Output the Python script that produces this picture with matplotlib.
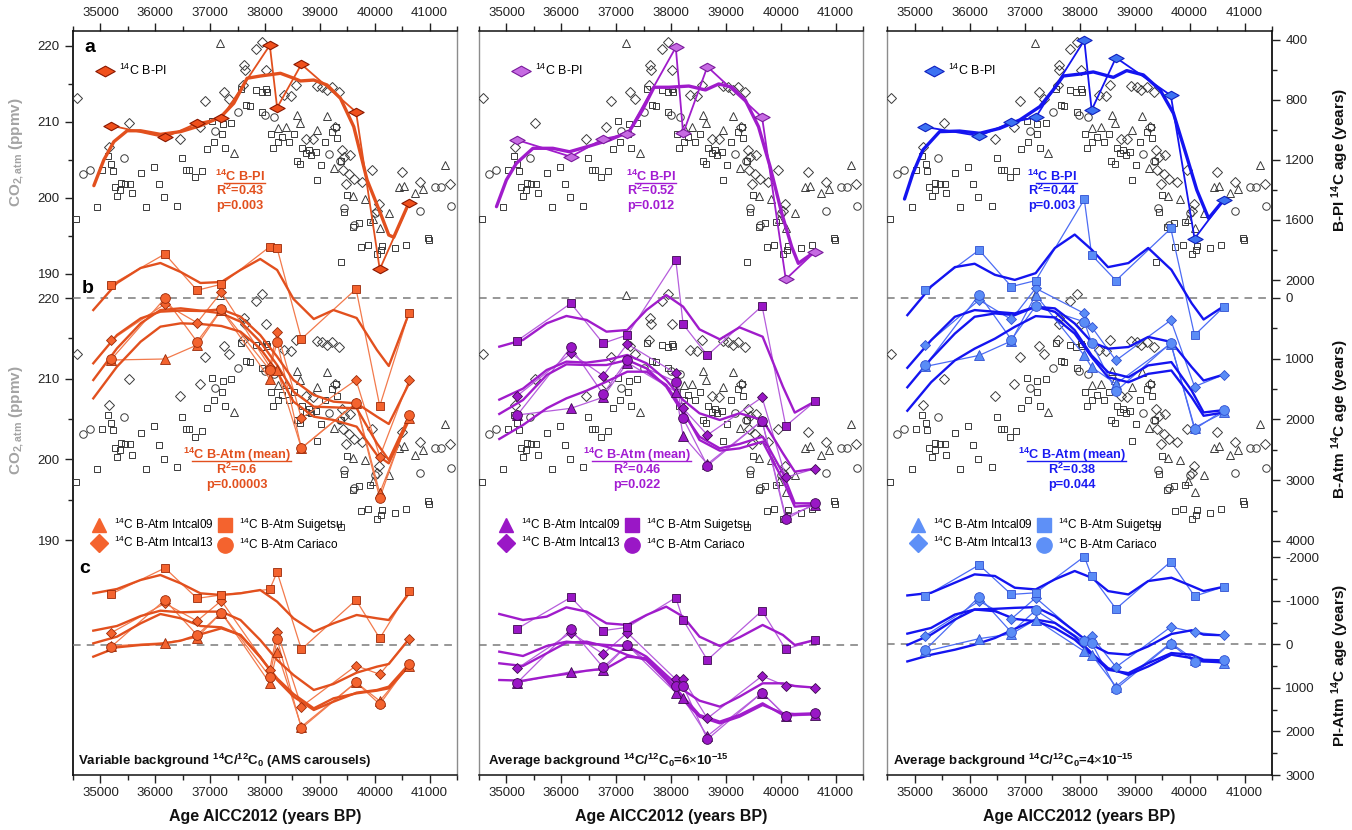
import matplotlib
matplotlib.use("Agg")
import matplotlib.pyplot as plt
from matplotlib.path import Path
from matplotlib.lines import Line2D

plt.rcParams['font.family'] = ['Liberation Sans', 'DejaVu Sans']
plt.rcParams['mathtext.fontset'] = 'custom'
plt.rcParams['mathtext.rm'] = 'Liberation Sans'
plt.rcParams['mathtext.it'] = 'Liberation Sans:italic'
plt.rcParams['mathtext.bf'] = 'Liberation Sans:bold'

# ---------------- data ----------------
# sample ages (AICC2012, years BP) and ages at which the smoothed fits were read
SAMPLE_AGE = [35370, 36320, 36890, 37320, 38180, 38310, 38740, 39710, 40130, 40650]
FIT_AGE = [35050, 35470, 35890, 36240, 36600, 36950, 37320, 37660, 38010, 38310,
           38600, 38960, 39310, 39720, 40080, 40290, 40650]

# background CO2 records (ppmv), hollow black markers
SQ_AGE = [34740, 35124, 35207, 35307, 35372, 35396, 35426, 35479, 35532, 35544, 35621, 35709,
          35739, 35892, 35987, 36123, 36217, 36300, 36543, 36631, 36702, 36755, 36862, 36974,
          37063, 37187, 37163, 37340, 37346, 37388, 37500, 37671, 37766, 37825, 37931, 38038,
          38115, 38132, 38044, 38197, 38233, 38322, 38404, 38522, 38617, 38658, 38717, 38759,
          38818, 38871, 38918, 38995, 39019, 39096, 39167, 39291, 39356, 39380, 39438, 39504,
          39551, 39651, 39758, 39793, 39929, 39965, 40089, 40172, 40148, 40396, 40591, 40987,
          41011, 39444]
SQ_CO2 = [197.2, 198.8, 203.7, 205.5, 204.5, 203.6, 201.4, 200.3, 201.1, 202.0, 201.9, 201.9,
          200.6, 203.3, 198.8, 204.1, 201.8, 200.1, 199.0, 205.2, 203.7, 203.7, 202.8, 203.5,
          206.4, 207.4, 210.1, 208.4, 209.7, 206.6, 209.9, 214.4, 212.2, 212.1, 214.2, 213.9,
          214.3, 214.0, 211.3, 208.4, 206.6, 207.4, 208.0, 207.3, 208.4, 204.9, 204.5, 206.6,
          205.9, 206.3, 205.7, 206.0, 202.3, 204.4, 207.4, 208.7, 209.4, 207.9, 204.9, 198.2,
          200.4, 196.2, 196.7, 193.6, 193.8, 196.8, 192.6, 193.7, 193.1, 193.4, 193.8, 194.8,
          194.5, 191.6]
DI_AGE = [34764, 35325, 35691, 36596, 36938, 37039, 37376, 37459, 37707, 37725, 37736, 37931,
          38050, 38115, 38434, 38564, 38641, 38824, 38942, 39013, 39108, 39190, 39291, 39338,
          39409, 39456, 39470, 39498, 39533, 39592, 39604, 39675, 39823, 40000, 40089, 40118,
          40532, 40839, 41383]
DI_CO2 = [213.1, 206.7, 209.9, 207.8, 209.3, 212.7, 214.0, 213.0, 214.8, 217.5, 216.8, 219.6,
          220.5, 216.8, 213.5, 213.4, 214.8, 207.8, 207.7, 214.7, 214.6, 214.2, 214.6, 209.4,
          213.9, 206.3, 203.7, 205.4, 201.9, 203.1, 205.6, 202.5, 202.1, 203.7, 198.3, 199.2,
          203.4, 202.1, 201.9]
TR_AGE = [37305, 37541, 38322, 38475, 38664, 38723, 39019, 39202, 39320, 39663, 39870, 40018,
          40130, 40296, 40479, 40556, 40751, 40898, 41294]
TR_CO2 = [220.4, 205.9, 209.2, 209.4, 210.9, 209.8, 209.0, 210.8, 203.9, 200.2, 199.9, 197.3,
          196.0, 198.0, 201.4, 201.6, 200.6, 201.2, 204.4]
CI_AGE = [34870, 34988, 35591, 37216, 37618, 38091, 38251, 39226, 39421, 39492, 39681, 40053,
          40839, 41117, 41212, 41401]
CI_CO2 = [203.1, 203.7, 205.3, 208.8, 211.3, 210.9, 210.6, 205.8, 204.9, 198.7, 196.5, 198.0,
          198.3, 201.4, 201.4, 198.9]

# ---- left column: variable background ----
L_BPI = [971, 1049, 955, 922, 435, 851, 562, 880, 1929, 1487]
L_BPI_FIT_X = [35060, 35236, 35414, 35650, 35887, 36240, 36596, 36950, 37305, 37541, 37778, 38014,
               38369, 38605, 38723, 38960, 39196, 39433, 39669, 39905, 40142, 40290, 40378, 40656]
L_BPI_FIT = [1371, 1200, 1078, 1005, 1005, 1029, 1011, 971, 915, 822, 655, 640,
             622, 655, 673, 667, 700, 789, 978, 1333, 1555, 1700, 1715, 1478]
L_B_I09 = [1021, 1004, 774, 198, 1333, 1185, 2469, 1728, 3210, 1975]
L_B_I13 = [691, 99, 407, -94, 1131, 555, 1980, 1350, 2612, 1350]
L_B_SUI = [-219, -724, -127, -226, -844, -818, 675, -148, 1778, 242]
L_B_CAR = [1009, 5, 719, 186, 1185, 719, 2474, 1733, 3297, 1926]
L_B_I09_FIT = [1652, 1130, 719, 472, 417, 428, 461, 554, 829, 1213, 1706, 1953, 2008, 2118, 2584, 2722, 2008]
L_B_I13_FIT = [1075, 609, 335, 225, 208, 214, 187, 307, 609, 966, 1350, 1597, 1706, 1734, 1953, 2074, 1405]
L_B_SUI_FIT = [198, -247, -494, -576, -428, -247, -263, -461, -642, -461, 16, 346, 198, 329, 856, 1119, 247]
L_B_CAR_FIT = [1350, 829, 417, 198, 170, 208, 252, 390, 719, 1103, 1542, 1789, 1800, 1816, 2392, 2667, 1953]
L_C_I09 = [23, -54, -168, -742, 879, 153, 1873, 856, 1284, 482]
L_C_I13 = [-283, -956, -550, -1017, 573, -306, 1414, 474, 673, -138]
L_C_SUI = [-1170, -1766, -1070, -1147, -1277, -1674, 99, -1032, -153, -1239]
L_C_CAR = [38, -1032, -229, -742, 726, -130, 1911, 856, 1361, 436]
L_C_I09_FIT = [268, 54, 0, -23, -99, -245, -382, -229, 283, 765, 1124, 1453, 1223, 1109, 1047, 994, 482]
L_C_I13_FIT = [-329, -436, -665, -787, -749, -765, -765, -573, -115, 344, 688, 1032, 894, 635, 497, 436, -138]
L_C_SUI_FIT = [-1185, -1284, -1491, -1605, -1414, -1185, -1147, -1185, -1261, -994, -612, -306, -497, -688, -612, -573, -1185]
L_C_CAR_FIT = [-38, -191, -497, -711, -612, -436, -405, -229, 268, 803, 1185, 1491, 1300, 1093, 1032, 956, 436]

# ---- middle column: background 6e-15 ----
M_BPI = [1067, 1178, 1060, 1027, 449, 1022, 578, 915, 1995, 1811]
M_BPI_FIT_X = [35000, 35176, 35353, 35647, 36000, 36294, 36647, 37000, 37353, 37588, 37794, 38059,
               38412, 38706, 38941, 39176, 39412, 39647, 39853, 40059, 40235, 40353, 40647]
M_BPI_FIT = [1511, 1333, 1222, 1122, 1122, 1145, 1107, 1067, 1011, 867, 715, 715,
             707, 733, 693, 715, 800, 978, 1245, 1555, 1778, 1889, 1811]
M_B_I09 = [1926, 1816, 1635, 1064, 1542, 2272, 2733, 2019, 3599, 3407]
M_B_I13 = [1608, 911, 1278, 757, 1240, 1816, 2255, 1635, 2952, 2809]
M_B_SUI = [702, 88, 746, 609, -626, 433, 944, 132, 2107, 1701]
M_B_CAR = [1926, 812, 1580, 1021, 1377, 1981, 2760, 2019, 3643, 3380]
M_B_I09_FIT = [2321, 2091, 1816, 1652, 1525, 1377, 1213, 1213, 1432, 1844, 2337, 2513, 2475, 2365, 2996, 3435, 3407]
M_B_I13_FIT = [1673, 1492, 1185, 1048, 1064, 1021, 938, 1075, 1350, 1679, 1898, 2008, 1898, 2008, 2557, 2859, 2809]
M_B_SUI_FIT = [801, 691, 417, 296, 362, 554, 527, 198, -49, 143, 516, 680, 483, 637, 1460, 1887, 1701]
M_B_CAR_FIT = [1909, 1679, 1268, 1092, 1103, 1103, 1021, 1158, 1460, 1899, 2283, 2475, 2403, 2283, 2886, 3380, 3380]
M_C_I09 = [864, 612, 573, 0, 1093, 1223, 2087, 1093, 1628, 1605]
M_C_I13 = [535, -283, 206, -283, 787, 787, 1682, 711, 940, 979]
M_C_SUI = [-375, -1093, -329, -405, -1086, -573, 344, -787, 99, -115]
M_C_CAR = [864, -359, 512, 0, 933, 940, 2164, 1093, 1628, 1567]
M_C_I09_FIT = [803, 818, 726, 665, 589, 535, 268, 306, 742, 1185, 1605, 1758, 1605, 1338, 1605, 1605, 1583]
M_C_I13_FIT = [153, 252, 23, -76, -38, 0, 23, 268, 688, 1032, 1277, 1414, 1185, 879, 879, 940, 979]
M_C_SUI_FIT = [-711, -573, -650, -864, -764, -497, -459, -688, -879, -650, -191, 23, -176, -459, -229, 0, -115]
M_C_CAR_FIT = [420, 482, 191, -54, -76, 38, 229, 344, 803, 1261, 1644, 1797, 1644, 1376, 1567, 1583, 1567]

# ---- right column: background 4e-15 ----
R_BPI = [980, 1040, 949, 916, 402, 867, 518, 769, 1724, 1464]
R_BPI_FIT_X = [35000, 35148, 35325, 35621, 35975, 36330, 36684, 37039, 37394, 37630, 37807,
               38103, 38339, 38694, 38930, 39225, 39521, 39757, 39993, 40170, 40378, 40644]
R_BPI_FIT = [1460, 1289, 1133, 1011, 1007, 1022, 989, 933, 844, 733, 640,
             627, 613, 649, 604, 633, 733, 889, 1178, 1400, 1589, 1467]
R_B_I09 = [1127, 945, 707, -50, 945, 1138, 1414, 751, 2133, 1884]
R_B_I13 = [779, 33, 354, -160, 254, 475, 1028, 365, 1459, 1260]
R_B_SUI = [-133, -790, -188, -287, -1624, -707, -287, -1144, 613, 144]
R_B_CAR = [1111, -55, 685, 133, 392, 740, 1536, 740, 2160, 1845]
R_B_I09_FIT = [1856, 1387, 1028, 834, 669, 475, 298, 320, 586, 972, 1304, 1387, 1249, 1193, 1635, 1939, 1884]
R_B_I13_FIT = [1149, 696, 309, 199, 227, 254, 144, 171, 420, 724, 834, 807, 641, 724, 1138, 1359, 1260]
R_B_SUI_FIT = [282, -188, -508, -564, -381, -298, -409, -823, -1044, -796, -508, -575, -823, -464, 88, 354, 133]
R_B_CAR_FIT = [1470, 1000, 586, 309, 254, 282, 144, 227, 530, 945, 1221, 1304, 1110, 1055, 1525, 1884, 1845]
R_C_I09 = [161, -131, -238, -569, 161, 238, 969, -31, 354, 431]
R_C_I13 = [-200, -992, -584, -1069, -108, -185, 523, -400, -277, -208]
R_C_SUI = [-1107, -1823, -1146, -1184, -2015, -1569, -815, -1899, -1107, -1323]
R_C_CAR = [123, -1092, -277, -784, -69, -31, 1023, -15, 415, 369]
R_C_I09_FIT = [392, 238, 123, 8, -146, -354, -569, -492, -185, 200, 546, 700, 508, 238, 315, 392, 415]
R_C_I13_FIT = [-246, -377, -684, -800, -815, -838, -854, -646, -300, 8, 200, 238, 46, -238, -323, -223, -208]
R_C_SUI_FIT = [-1123, -1184, -1415, -1607, -1569, -1300, -1261, -1492, -1684, -1530, -1223, -1146, -1453, -1530, -1338, -1223, -1323]
R_C_CAR_FIT = [15, -223, -569, -800, -761, -584, -531, -377, -108, 238, 584, 661, 431, 200, 238, 354, 369]

SERIES_NAMES = ['Intcal09', 'Intcal13', 'Suigetsu', 'Cariaco']
STATS_A = [('0.43', '0.003'), ('0.52', '0.012'), ('0.44', '0.003')]
STATS_B = [('0.6', '0.00003'), ('0.46', '0.022'), ('0.38', '0.044')]
NOTES = [r'Variable background $^{\mathbf{14}}$C/$^{\mathbf{12}}$C$_{\mathbf{0}}$ (AMS carousels)',
         r'Average background $^{\mathbf{14}}$C/$^{\mathbf{12}}$C$_{\mathbf{0}}$=6$\times$10$^{\mathbf{-15}}$',
         r'Average background $^{\mathbf{14}}$C/$^{\mathbf{12}}$C$_{\mathbf{0}}$=4$\times$10$^{\mathbf{-15}}$']

# ---------------- layout ----------------
W, H = 1352, 830
TOP, BOT = 31, 775
XLIM = (34690, 41500)
A_CO2_LIM = (124.08, 221.97)
A_AGE_LIM = (5300, 340)
B_CO2_LIM = (160.87, 253.1)
B_AGE_LIM = (7852, -4395)
C_AGE_LIM = (2982, -14083)

BPI_MARK = Path([(-1, 0), (0, 0.55), (1, 0), (0, -0.55), (-1, 0)],
                [Path.MOVETO, Path.LINETO, Path.LINETO, Path.LINETO, Path.CLOSEPOLY])
MARKS = ['^', 'D', 's', 'o']
MSIZE = {'^': 6.5, 'D': 5.5, 's': 5.5, 'o': 7}

columns = [
    dict(px=(73, 457), fit='#E2501E', thin='#F27A4C', face='#F4632E', edge='#9A2A08',
         bpi_face='#F0501C', bpi_edge='#8A1800', txt='#E2501E', lface='#F4632E',
         bpi=L_BPI, bpi_fx=L_BPI_FIT_X, bpi_fit=L_BPI_FIT,
         b=[L_B_I09, L_B_I13, L_B_SUI, L_B_CAR], bfit=[L_B_I09_FIT, L_B_I13_FIT, L_B_SUI_FIT, L_B_CAR_FIT],
         c=[L_C_I09, L_C_I13, L_C_SUI, L_C_CAR], cfit=[L_C_I09_FIT, L_C_I13_FIT, L_C_SUI_FIT, L_C_CAR_FIT],
         sa=(240, 181), sb=(237, 459), leg_a=95, leg_b=90, note_x=78),
    dict(px=(479, 863), fit='#A01CCB', thin='#B65DDC', face='#9A17C6', edge='#3C0A4E',
         bpi_face='#C66BE2', bpi_edge='#7A1A9C', txt='#A31CD2', lface='#9A17C6',
         bpi=M_BPI, bpi_fx=M_BPI_FIT_X, bpi_fit=M_BPI_FIT,
         b=[M_B_I09, M_B_I13, M_B_SUI, M_B_CAR], bfit=[M_B_I09_FIT, M_B_I13_FIT, M_B_SUI_FIT, M_B_CAR_FIT],
         c=[M_C_I09, M_C_I13, M_C_SUI, M_C_CAR], cfit=[M_C_I09_FIT, M_C_I13_FIT, M_C_SUI_FIT, M_C_CAR_FIT],
         sa=(651, 181), sb=(637, 459), leg_a=511, leg_b=497, note_x=488),
    dict(px=(887, 1272), fit='#1414F0', thin='#4C6CF4', face='#5A8CF6', edge='#2F4FD2',
         bpi_face='#3C72F2', bpi_edge='#1020C0', txt='#1A1AF2', lface='#5E90F7',
         bpi=R_BPI, bpi_fx=R_BPI_FIT_X, bpi_fit=R_BPI_FIT,
         b=[R_B_I09, R_B_I13, R_B_SUI, R_B_CAR], bfit=[R_B_I09_FIT, R_B_I13_FIT, R_B_SUI_FIT, R_B_CAR_FIT],
         c=[R_C_I09, R_C_I13, R_C_SUI, R_C_CAR], cfit=[R_C_I09_FIT, R_C_I13_FIT, R_C_SUI_FIT, R_C_CAR_FIT],
         sa=(1052, 181), sb=(1072, 459), leg_a=924, leg_b=909, note_x=893),
]

fig = plt.figure(figsize=(W / 100, H / 100), dpi=100)


def rect(x0, x1):
    return [x0 / W, 1 - BOT / H, (x1 - x0) / W, (BOT - TOP) / H]


def bare(ax):
    ax.patch.set_visible(False)
    for s in ax.spines.values():
        s.set_visible(False)
    ax.tick_params(axis='both', which='both', bottom=False, top=False, left=False, right=False,
                   labelbottom=False, labeltop=False, labelleft=False, labelright=False)
    ax.set_xlim(*XLIM)


def draw_co2(ax):
    for xs, ys, m, ms in [(SQ_AGE, SQ_CO2, 's', 4.2), (DI_AGE, DI_CO2, 'D', 4.6),
                          (TR_AGE, TR_CO2, '^', 5.2), (CI_AGE, CI_CO2, 'o', 5.4)]:
        ax.plot(xs, ys, ls='none', marker=m, ms=ms, mfc='none', mec='#3a3a3a', mew=0.7, zorder=1)


def set_left_ticks(ax):
    ax.tick_params(axis='y', which='both', left=True, labelleft=True, direction='out',
                   labelsize=9.5, colors='#222222')
    ax.tick_params(axis='y', which='major', length=6, width=1)
    ax.tick_params(axis='y', which='minor', length=3.5, width=1)
    ax.set_yticks([190, 200, 210, 220])
    ax.set_yticks([195, 205, 215], minor=True)


def set_right_ticks(ax, major, minor):
    ax.yaxis.tick_right()
    ax.tick_params(axis='y', which='both', right=True, labelright=True, left=False, labelleft=False,
                   direction='out', labelsize=9.5, colors='#222222')
    ax.tick_params(axis='y', which='major', length=6, width=1)
    ax.tick_params(axis='y', which='minor', length=3.5, width=1)
    ax.set_yticks(major)
    ax.set_yticklabels([str(v) for v in major])
    ax.set_yticks(minor, minor=True)


def stat_block(x, y, head, r2, p, color, gap):
    kw = dict(ha='center', va='baseline', color=color, fontsize=9.2, fontweight='bold')
    t = fig.text(x / W, 1 - y / H, head, **kw)
    fig.text(x / W, 1 - (y + gap) / H, r'R$^{\mathbf{2}}$=' + r2, **kw)
    fig.text(x / W, 1 - (y + 2 * gap) / H, 'p=' + p, **kw)
    return t


heads = []
for k, col in enumerate(columns):
    x0, x1 = col['px']
    r = rect(x0, x1)

    frame = fig.add_axes(r, label=f'frame{k}')
    frame.set_xlim(*XLIM)
    frame.set_ylim(0, 1)
    frame.set_yticks([])
    ticks = list(range(35000, 41001, 1000))
    frame.set_xticks(ticks)
    frame.set_xticklabels([str(t) for t in ticks])
    frame.set_xticks(list(range(34500, 41501, 500)), minor=True)
    frame.tick_params(axis='x', which='both', top=True, labeltop=True, bottom=True, labelbottom=True,
                      direction='out', labelsize=9.5, colors='#222222')
    frame.tick_params(axis='x', which='major', length=6, width=1, pad=2.5)
    frame.tick_params(axis='x', which='minor', length=3.5, width=1)
    for side in ['top', 'bottom']:
        frame.spines[side].set_color('#111111')
        frame.spines[side].set_linewidth(1.1)
    for side in ['left', 'right']:
        frame.spines[side].set_color('#8c8c8c')
        frame.spines[side].set_linewidth(1.0)
    if k == 0:
        frame.spines['left'].set_color('#111111')
        frame.spines['left'].set_linewidth(1.3)
    if k == 2:
        frame.spines['right'].set_color('#111111')
        frame.spines['right'].set_linewidth(1.3)

    # CO2 background records in panels a and b
    ax_a = fig.add_axes(r, label=f'co2a{k}')
    bare(ax_a)
    ax_a.set_ylim(*A_CO2_LIM)
    draw_co2(ax_a)
    ax_b = fig.add_axes(r, label=f'co2b{k}')
    bare(ax_b)
    ax_b.set_ylim(*B_CO2_LIM)
    draw_co2(ax_b)
    if k == 0:
        set_left_ticks(ax_a)
        set_left_ticks(ax_b)

    # panel a : B-PI ages
    ax_aa = fig.add_axes(r, label=f'agea{k}')
    bare(ax_aa)
    ax_aa.set_ylim(*A_AGE_LIM)
    ax_aa.plot(SAMPLE_AGE, col['bpi'], color=col['fit'], lw=1.3, zorder=2)
    ax_aa.plot(col['bpi_fx'], col['bpi_fit'], color=col['fit'], lw=2.4, zorder=3,
               solid_joinstyle='round', solid_capstyle='round')
    ax_aa.plot(SAMPLE_AGE, col['bpi'], ls='none', marker=BPI_MARK, ms=11, mfc=col['bpi_face'],
               mec=col['bpi_edge'], mew=0.8, zorder=4)

    # panel b : B-Atm ages
    ax_ba = fig.add_axes(r, label=f'ageb{k}')
    bare(ax_ba)
    ax_ba.set_ylim(*B_AGE_LIM)
    ax_ba.axhline(0, color='#7a7a7a', lw=1.1, ls=(0, (5, 4)), zorder=0)
    for vals, fit, m in zip(col['b'], col['bfit'], MARKS):
        ax_ba.plot(SAMPLE_AGE, vals, color=col['thin'], lw=0.9, zorder=2)
        ax_ba.plot(FIT_AGE, fit, color=col['fit'], lw=1.7, zorder=3, solid_joinstyle='round')
        ax_ba.plot(SAMPLE_AGE, vals, ls='none', marker=m, ms=MSIZE[m], mfc=col['face'],
                   mec=col['edge'], mew=0.6, zorder=4)

    # panel c : PI-Atm ages
    ax_c = fig.add_axes(r, label=f'agec{k}')
    bare(ax_c)
    ax_c.set_ylim(*C_AGE_LIM)
    ax_c.axhline(0, color='#7a7a7a', lw=1.1, ls=(0, (5, 4)), zorder=0)
    for vals, fit, m in zip(col['c'], col['cfit'], MARKS):
        ax_c.plot(SAMPLE_AGE, vals, color=col['thin'], lw=0.9, zorder=2)
        ax_c.plot(FIT_AGE, fit, color=col['fit'], lw=1.7, zorder=3, solid_joinstyle='round')
        ax_c.plot(SAMPLE_AGE, vals, ls='none', marker=m, ms=MSIZE[m], mfc=col['face'],
                  mec=col['edge'], mew=0.6, zorder=4)

    if k == 2:
        set_right_ticks(ax_aa, [400, 800, 1200, 1600, 2000], [600, 1000, 1400, 1800])
        set_right_ticks(ax_ba, [0, 1000, 2000, 3000, 4000], [500, 1500, 2500, 3500])
        set_right_ticks(ax_c, [-2000, -1000, 0, 1000, 2000, 3000], [-1500, -500, 500, 1500, 2500])

    # legends
    h_a = [Line2D([], [], ls='none', marker=BPI_MARK, ms=14, mfc=col['bpi_face'],
                  mec=col['bpi_edge'], mew=0.8)]
    lg_a = ax_c.legend(h_a, [r'$^{14}$C B-PI'], loc='upper left', frameon=False, fontsize=9,
                       bbox_to_anchor=(col['leg_a'] / W, 1 - 63 / H), bbox_transform=fig.transFigure,
                       borderpad=0, borderaxespad=0, handlelength=1.6, handletextpad=0.3)
    ax_c.add_artist(lg_a)
    h_b = [Line2D([], [], ls='none', marker=m, ms=9.5 if m != 'o' else 11, mfc=col['lface'],
                  mec=col['lface']) for m in MARKS]
    ax_c.legend(h_b, [r'$^{14}$C B-Atm ' + n for n in SERIES_NAMES], ncol=2, loc='upper left',
                frameon=False, fontsize=8.5, bbox_to_anchor=(col['leg_b'] / W, 1 - 516 / H),
                bbox_transform=fig.transFigure, borderpad=0, borderaxespad=0, handlelength=1.6,
                handletextpad=0.4, columnspacing=0.2, labelspacing=0.25)

    # statistics text
    sx, sy = col['sa']
    heads.append((stat_block(sx, sy, r'$^{\mathbf{14}}$C B-PI', STATS_A[k][0], STATS_A[k][1],
                             col['txt'], 14), col['txt'], 9))
    sx, sy = col['sb']
    heads.append((stat_block(sx, sy, r'$^{\mathbf{14}}$C B-Atm (mean)', STATS_B[k][0], STATS_B[k][1],
                             col['txt'], 14.5), col['txt'], 9))

    fig.text(col['note_x'] / W, 1 - 761 / H, NOTES[k], ha='left', va='center', fontsize=9.5,
             fontweight='bold', color='#111111')
    fig.text((x0 + x1) / 2 / W, 1 - 816 / H, 'Age AICC2012 (years BP)', ha='center', va='center',
             fontsize=11.5, fontweight='bold', color='#111111')

# panel letters
for letter, (lx, ly) in zip('abc', [(90, 47), (88, 288), (85, 568)]):
    fig.text(lx / W, 1 - ly / H, letter, ha='center', va='center', fontsize=14, fontweight='bold')

# axis titles
for yc in [152, 420]:
    fig.text(17 / W, 1 - yc / H, r'CO$_{\mathbf{2,atm}}$ (ppmv)', rotation=90, ha='center', va='center',
             fontsize=11, fontweight='bold', color='#a3a3a3')
for yc, lab in [(160, 'B-PI'), (419, 'B-Atm'), (666, 'PI-Atm')]:
    fig.text(1340 / W, 1 - yc / H, lab + r' $^{\mathbf{14}}$C age (years)', rotation=90, ha='center',
             va='center', fontsize=11, fontweight='bold', color='#111111')

# underline the headline of each statistics block, just below its baseline
fig.canvas.draw()
renderer = fig.canvas.get_renderer()
for t, c, skip in heads:
    bb = t.get_window_extent(renderer)
    _, base = t.get_transform().transform(t.get_position())
    y = base - 2
    fig.add_artist(Line2D([(bb.x0 + skip) / W, bb.x1 / W], [y / H, y / H], color=c, lw=1.0,
                          transform=fig.transFigure))

fig.savefig('out.png', dpi=100)
